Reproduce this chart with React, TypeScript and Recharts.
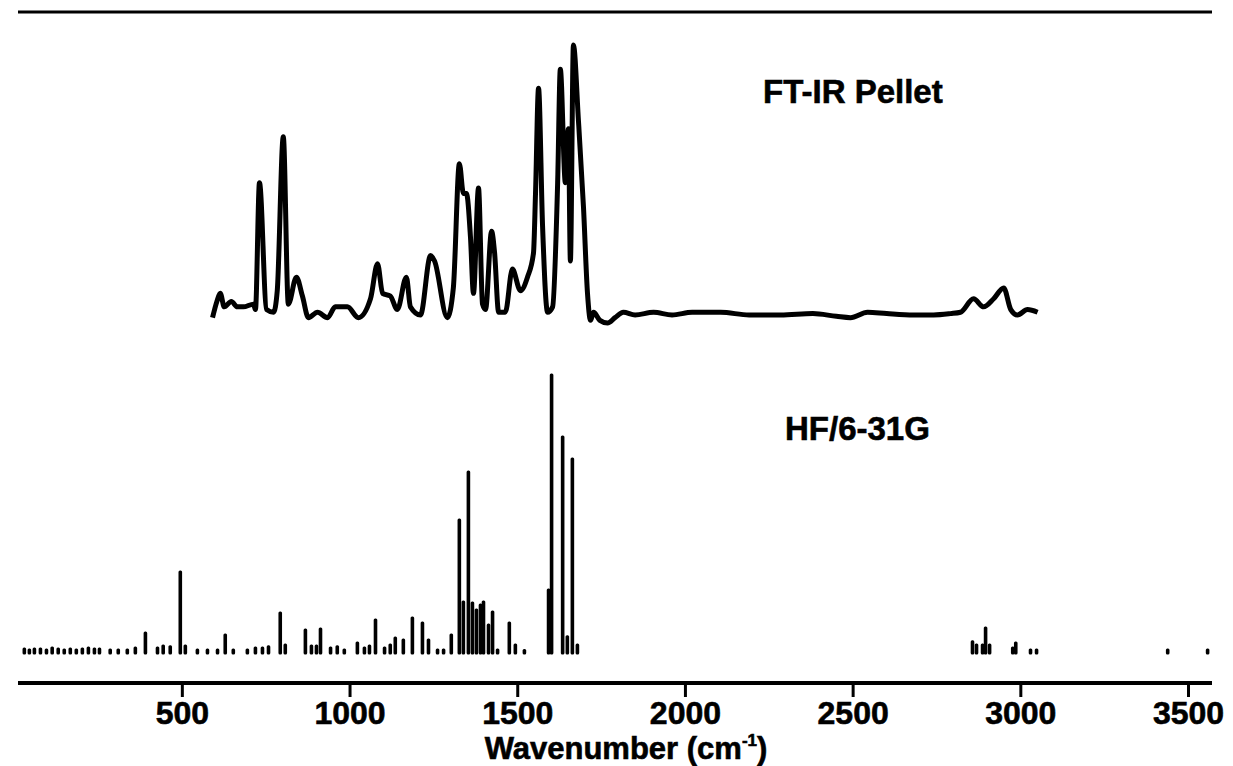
import { ComposedChart, Line, Bar, XAxis, YAxis, ReferenceLine, Label } from 'recharts';

// FT-IR pellet spectrum (absorbance, normalised to the strongest band)
const irWavenumber = [
  590, 603, 613, 625, 646, 664, 682, 712, 718, 730, 751, 772, 783, 801, 816, 840, 858, 876, 903, 933,
  956, 992, 1025, 1061, 1082, 1097, 1120, 1141, 1168, 1180, 1210, 1240, 1252, 1290, 1308, 1326, 1338, 1347, 1359, 1368,
  1383, 1395, 1404, 1422, 1431, 1443, 1463, 1484, 1508, 1529, 1547, 1553, 1562, 1574, 1589, 1604, 1619, 1627, 1642, 1651,
  1657, 1666, 1681, 1696, 1708, 1717, 1726, 1745, 1768, 1790, 1815, 1850, 1905, 1960, 2020, 2105, 2190, 2284, 2380, 2450,
  2492, 2543, 2600, 2680, 2740, 2790, 2820, 2859, 2889, 2919, 2949, 2970, 2990, 3020, 3050,
];
const irAbsorbance = [
  -0.01, 0.05, 0.08, 0.03, 0.05, 0.03, 0.03, 0.04, 0.02, 0.49, 0.02, 0.01, 0.09, 0.66, 0.04, 0.14, 0.07, -0.01, 0.01, -0.01,
  0.03, 0.03, -0.01, 0.06, 0.19, 0.08, 0.07, 0.02, 0.14, 0.03, 0.0, 0.22, 0.2, -0.01, 0.1, 0.56, 0.45, 0.45, 0.29, 0.08,
  0.47, 0.04, 0.02, 0.31, 0.23, 0.01, 0.01, 0.17, 0.09, 0.14, 0.23, 0.45, 0.84, 0.33, 0.01, 0.03, 0.49, 0.91, 0.49, 0.69,
  0.2, 1.0, 0.72, 0.4, 0.08, -0.02, 0.01, -0.02, -0.03, -0.01, 0.01, 0.0, 0.01, 0.0, 0.01, 0.01, 0.0, 0.0, 0.005, -0.005,
  -0.01, 0.01, 0.005, 0.0, 0.0, 0.005, 0.01, 0.06, 0.03, 0.06, 0.1, 0.02, 0.0, 0.02, 0.01,
];

// HF/6-31G calculated frequencies and relative intensities
const hfWavenumber = [
  29, 44, 59, 77, 95, 112, 130, 148, 166, 184, 202, 220, 238, 253, 285, 309, 336, 360, 390, 426,
  443, 464, 494, 509, 545, 575, 605, 628, 652, 694, 718, 739, 757, 792, 807, 867, 885, 900, 912, 942,
  962, 983, 1022, 1043, 1058, 1076, 1103, 1120, 1135, 1159, 1186, 1216, 1234, 1261, 1279, 1302, 1326, 1338, 1353, 1365,
  1377, 1389, 1398, 1413, 1425, 1440, 1475, 1493, 1520, 1592, 1601, 1634, 1648, 1663, 1678, 2856, 2868, 2886, 2895, 2907,
  2976, 2985, 3029, 3047, 3438, 3557,
];
const hfIntensity = [
  1.4, 1.1, 1.4, 1.4, 1.1, 1.8, 1.4, 1.1, 1.4, 1.1, 1.4, 1.8, 1.4, 1.4, 1.1, 1.1, 1.1, 1.8, 7.2, 1.8,
  2.5, 2.2, 29.1, 2.5, 1.1, 1.1, 1.1, 6.5, 1.1, 1.1, 1.8, 1.8, 2.2, 14.4, 2.9, 8.3, 2.5, 2.5, 8.6, 1.8,
  2.2, 1.1, 3.6, 1.8, 2.5, 11.9, 1.8, 2.9, 5.4, 4.7, 12.6, 10.8, 4.7, 1.1, 1.1, 6.5, 47.8, 18.3, 65.1, 18.0,
  15.5, 17.3, 18.3, 10.1, 14.7, 1.1, 10.8, 2.9, 0.9, 22.7, 100, 77.7, 5.8, 69.8, 2.9, 4.0, 2.9, 2.9, 9.0, 2.9,
  1.8, 3.6, 1.1, 1.1, 1.1, 1.1,
];

const xTicks = [500, 1000, 1500, 2000, 2500, 3000, 3500];
const seriesNames = ['FT-IR Pellet', 'HF/6-31G'];

const irData = irWavenumber.map((wn, i) => ({ wn, ir: irAbsorbance[i] }));
const hfData = hfWavenumber.map((wn, i) => ({ wn, hf: hfIntensity[i] }));

const FONT = '"Liberation Sans", Arial, Helvetica, sans-serif';

function AxisTitle(props: any) {
  const { x, y, width } = props.viewBox;
  return (
    <text
      x={x + width / 2 + 11}
      y={y + 76}
      textAnchor="middle"
      fontFamily={FONT}
      fontSize={31}
      fontWeight={700}
      fill="#000"
      stroke="#000"
      strokeWidth={0.6}
    >
      Wavenumber (cm
      <tspan fontSize={17} dy={-13}>-1</tspan>
      <tspan dy={13}>)</tspan>
    </text>
  );
}

export default function App() {
  return (
    <div style={{ position: 'absolute', left: 0, top: 0, width: 1233, height: 766, background: '#fff' }}>
      <ComposedChart
        width={1233}
        height={766}
        data={hfData}
        margin={{ top: 12, right: 21, bottom: 23, left: 18 }}
        barGap={0}
      >
        <XAxis
          dataKey="wn"
          type="number"
          domain={[10, 3570]}
          allowDataOverflow
          ticks={xTicks}
          height={60}
          tickSize={14}
          tickMargin={4}
          axisLine={{ stroke: '#000', strokeWidth: 4 }}
          tickLine={{ stroke: '#000', strokeWidth: 3 }}
          tick={{ fill: '#000', fontSize: 32, fontWeight: 700, fontFamily: FONT, stroke: '#000', strokeWidth: 0.6 }}
        >
          <Label content={AxisTitle} />
        </XAxis>
        <YAxis
          yAxisId="ir"
          type="number"
          domain={[-1.363, 1.122]}
          allowDataOverflow
          width={0}
          tick={false}
          tickLine={false}
          axisLine={{ stroke: '#000', strokeWidth: 4 }}
        />
        <YAxis yAxisId="hf" type="number" domain={[-10.8, 230.6]} allowDataOverflow hide />
        <ReferenceLine yAxisId="ir" y={1.122} stroke="#000" strokeWidth={3} />
        <Bar
          yAxisId="hf"
          dataKey="hf"
          name={seriesNames[1]}
          barSize={4}
          fill="#000"
          stroke="#000"
          strokeWidth={3}
          strokeLinejoin="round"
          isAnimationActive={false}
        />
        <Line
          yAxisId="ir"
          data={irData}
          dataKey="ir"
          name={seriesNames[0]}
          type="monotone"
          stroke="#000"
          strokeWidth={5}
          strokeLinejoin="round"
          dot={false}
          activeDot={false}
          isAnimationActive={false}
        />
      </ComposedChart>
      <svg
        width={1233}
        height={766}
        style={{ position: 'absolute', left: 0, top: 0, pointerEvents: 'none' }}
      >
        <text x={763} y={103} fontFamily={FONT} fontSize={33} fontWeight={700} fill="#000" stroke="#000" strokeWidth={0.6}>
          {seriesNames[0]}
        </text>
        <text x={785} y={440} fontFamily={FONT} fontSize={33} fontWeight={700} fill="#000" stroke="#000" strokeWidth={0.6}>
          {seriesNames[1]}
        </text>
      </svg>
    </div>
  );
}
